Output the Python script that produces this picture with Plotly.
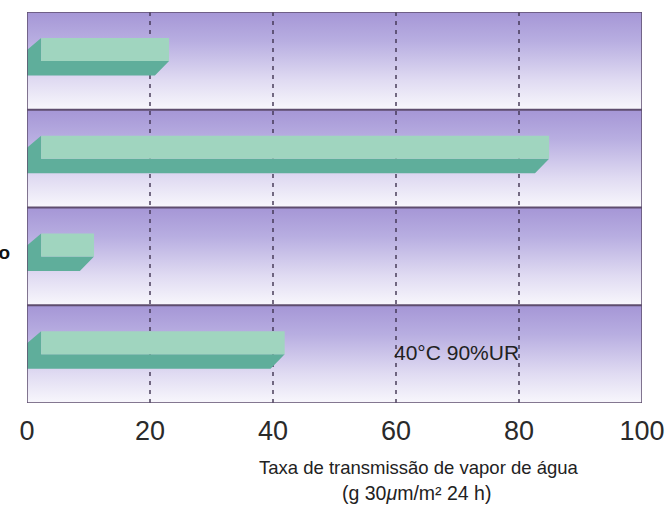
import plotly.graph_objects as go

# ---- data -------------------------------------------------------------
categories = ["", "", "o", ""]            # left labels (cut off in the reference)
values = [20.8, 82.6, 8.6, 39.6]          # water vapour transmission rate
x_ticks = [0, 20, 40, 60, 80, 100]
grid_ticks = [20, 40, 60, 80]
condition_label = "40°C 90%UR"
condition_x = 59.3
axis_title_1 = "Taxa de transmissão de vapor de água"
axis_title_2 = "(g 30<i>μ</i>m/m² 24 h)"

# ---- styling ----------------------------------------------------------
n = len(categories)
DX = 2.3                 # 3-D depth offset (x, data units)
LIGHT = "#a0d5bf"
DARK = "#5fae9b"
BORDER = "#5e4d6e"
band_scale = [[0, "#f8f7fc"], [0.3, "#e0dbf2"], [0.7, "#b8aee1"], [1, "#a596d6"]]

fig = go.Figure()

# gradient bands
for i in range(n):
    top, bot = n - i, n - i - 1
    fig.add_trace(go.Scatter(
        x=[0, 100, 100, 0, 0], y=[bot, bot, top, top, bot],
        mode="lines", line=dict(width=0), fill="toself",
        fillgradient=dict(type="vertical", colorscale=band_scale, start=bot, stop=top),
        hoverinfo="skip", showlegend=False))

# dashed grid lines (below bars)
gx, gy = [], []
for t in grid_ticks:
    gx += [t, t, None]
    gy += [0, n, None]
fig.add_trace(go.Scatter(x=gx, y=gy, mode="lines",
                         line=dict(color="#3f3350", width=1.4, dash="4px,5px"),
                         hoverinfo="skip", showlegend=False))

# 3-D bars
for i, v in enumerate(values):
    yb = n - i
    lt, lb, db, lft = yb - 0.265, yb - 0.50, yb - 0.65, yb - 0.39
    fig.add_trace(go.Scatter(
        x=[0, DX, DX, v + DX, v, 0, 0], y=[lft, lt, lb, lb, db, db, lft],
        mode="lines", line=dict(width=0), fill="toself", fillcolor=DARK,
        hoverinfo="skip", showlegend=False))
    fig.add_trace(go.Scatter(
        x=[DX, v + DX, v + DX, DX, DX], y=[lt, lt, lb, lb, lt],
        mode="lines", line=dict(width=0), fill="toself", fillcolor=LIGHT,
        hoverinfo="skip", showlegend=False))

# band boundaries and frame
for k in range(1, n):
    fig.add_shape(type="line", xref="x", yref="y", x0=0, x1=100, y0=k, y1=k,
                  line=dict(color=BORDER, width=2))
fig.add_shape(type="rect", xref="x", yref="y", x0=0, x1=100, y0=0, y1=n,
              line=dict(color=BORDER, width=1.5))

fig.add_annotation(x=condition_x, y=0.52, xref="x", yref="y", text=condition_label,
                   showarrow=False, xanchor="left", yanchor="middle",
                   font=dict(family="Liberation Sans, Arial", size=21, color="#222222"))

fig.add_annotation(x=63.7, y=-0.164, xref="x", yref="paper", text=axis_title_1,
                   showarrow=False, xanchor="center", yanchor="middle",
                   font=dict(family="Liberation Sans, Arial", size=18.5, color="#222222"))
fig.add_annotation(x=63.3, y=-0.23, xref="x", yref="paper", text=axis_title_2,
                   showarrow=False, xanchor="center", yanchor="middle",
                   font=dict(family="Liberation Sans, Arial", size=19.5, color="#222222"))

fig.update_layout(
    width=672, height=508,
    margin=dict(l=27, r=30, t=12, b=105, autoexpand=False),
    paper_bgcolor="white", plot_bgcolor="white",
    showlegend=False,
    xaxis=dict(range=[0, 100], tickvals=x_ticks, ticktext=[str(t) for t in x_ticks],
               showgrid=False, zeroline=False, showline=False, automargin=False,
               ticks="outside", ticklen=4, tickcolor="rgba(0,0,0,0)",
               tickfont=dict(family="Liberation Sans, Arial", size=27, color="#2a2a2a")),
    yaxis=dict(range=[0, n], tickvals=[n - i - 0.455 for i in range(n)], ticktext=categories,
               showgrid=False, zeroline=False, showline=False, automargin=False,
               ticks="outside", ticklen=12, tickcolor="rgba(0,0,0,0)",
               tickfont=dict(family="Liberation Sans, Arial", size=19, color="#111111", weight="bold")),
)

fig.write_html("out.html", config={"displayModeBar": False},
               post_script="document.body.style.margin='0';")
